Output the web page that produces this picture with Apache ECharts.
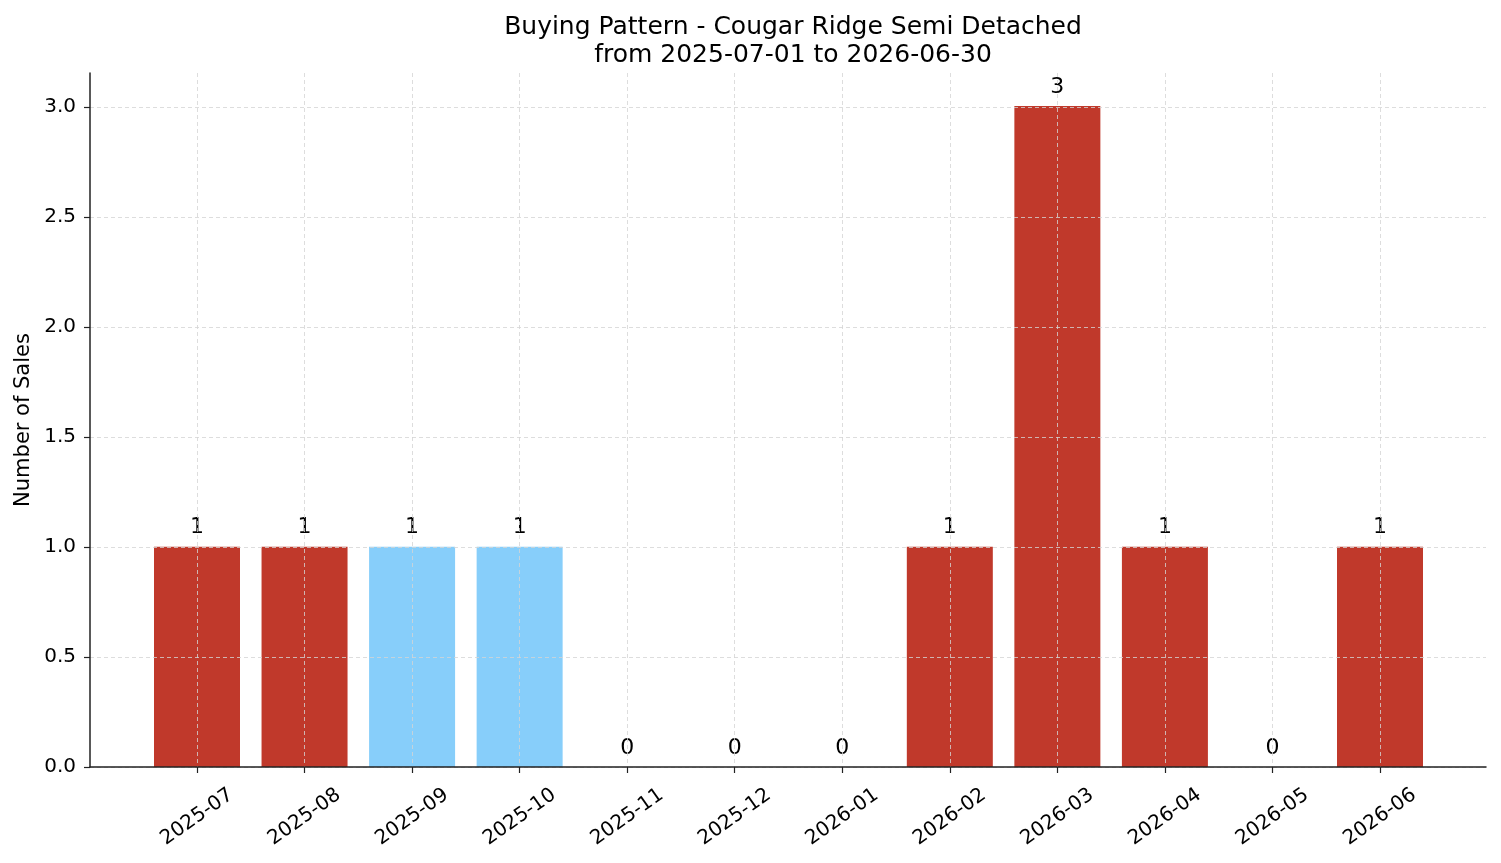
<!DOCTYPE html>
<html>
<head>
<meta charset="utf-8">
<title>Buying Pattern</title>
<script src="https://cdn.jsdelivr.net/npm/echarts@6/dist/echarts.min.js"></script>
<style>
  html, body { margin: 0; padding: 0; background: #fff; }
  #chart { width: 1501px; height: 863px; }
</style>
</head>
<body>
<div id="chart"></div>
<script>
// data
var months = ['2025-07', '2025-08', '2025-09', '2025-10', '2025-11', '2025-12',
              '2026-01', '2026-02', '2026-03', '2026-04', '2026-05', '2026-06'];
var sales = [1, 1, 1, 1, 0, 0, 0, 1, 3, 1, 0, 1];
var blueMonths = ['2025-09', '2025-10'];
var yTicks = [0, 0.5, 1, 1.5, 2, 2.5, 3];

var RED = '#C0392B';
var BLUE = '#87CEFA';
var FONT = '"DejaVu Sans", sans-serif';
var AXIS_COLOR = '#222';

var gridLine = {
  show: true,
  lineStyle: { color: '#d4d4d4', width: 0.8, type: [4, 3] }
};

var chart = echarts.init(document.getElementById('chart'), null, { renderer: 'canvas' });

chart.setOption({
  animation: false,
  backgroundColor: '#fff',
  textStyle: { fontFamily: FONT },
  title: {
    text: 'Buying Pattern - Cougar Ridge Semi Detached\nfrom 2025-07-01 to 2026-06-30',
    left: 788,
    top: 8,
    textAlign: 'center',
    textStyle: {
      fontFamily: FONT,
      fontSize: 25,
      fontWeight: 'normal',
      color: '#000',
      lineHeight: 28
    }
  },
  grid: [
    // frame: spines + y axis name
    { left: 90, right: 15, top: 73, bottom: 96, outerBoundsMode: 'none', containLabel: false },
    // horizontal grid lines + y tick labels (0..3)
    { left: 90, right: 15, top: 107, bottom: 96, outerBoundsMode: 'none', containLabel: false },
    // bars, ticks at centres of first and last bar
    { left: 197, right: 121, top: 73, bottom: 96, outerBoundsMode: 'none', containLabel: false }
  ],
  xAxis: [
    {
      gridIndex: 0, type: 'value', min: 0, max: 1,
      axisLine: { show: true, lineStyle: { color: AXIS_COLOR, width: 1.5 } },
      axisTick: { show: false }, axisLabel: { show: false }, splitLine: { show: false },
      z: 4
    },
    {
      gridIndex: 1, type: 'value', min: 0, max: 1, show: false
    },
    {
      gridIndex: 2, type: 'category', data: months, boundaryGap: false,
      axisLine: { show: false },
      axisTick: { show: true, length: 6, lineStyle: { color: AXIS_COLOR, width: 1.2 } },
      axisLabel: {
        show: true, interval: 0, rotate: 35, margin: 50,
        align: 'center', verticalAlign: 'middle',
        fontSize: 20, color: '#000', fontFamily: FONT
      },
      splitLine: Object.assign({ interval: 0 }, gridLine),
      z: 3
    }
  ],
  yAxis: [
    {
      gridIndex: 0, type: 'value', min: 0, max: 1,
      name: 'Number of Sales', nameLocation: 'middle', nameGap: 56,
      nameTextStyle: { fontSize: 21, color: '#000', fontFamily: FONT },
      axisLine: { show: true, lineStyle: { color: AXIS_COLOR, width: 1.5 } },
      axisTick: { show: false }, axisLabel: { show: false }, splitLine: { show: false },
      z: 4
    },
    {
      gridIndex: 1, type: 'value', min: yTicks[0], max: yTicks[yTicks.length - 1], interval: 0.5,
      axisLine: { show: false },
      axisTick: { show: true, length: 6, lineStyle: { color: AXIS_COLOR, width: 1.2 } },
      axisLabel: {
        margin: 14, fontSize: 20, color: '#000', fontFamily: FONT,
        formatter: function (v) { return v.toFixed(1); }
      },
      splitLine: gridLine,
      z: 3
    },
    {
      gridIndex: 2, type: 'value', min: 0, max: 3.15, show: false
    }
  ],
  series: [
    {
      type: 'bar',
      xAxisIndex: 2,
      yAxisIndex: 2,
      barWidth: 86,
      clip: false,
      z: 2,
      data: sales.map(function (v, i) {
        return {
          value: v,
          itemStyle: { color: blueMonths.indexOf(months[i]) >= 0 ? BLUE : RED }
        };
      }),
      label: {
        show: true,
        position: 'top',
        distance: 8,
        fontSize: 22,
        color: '#000',
        fontFamily: FONT
      }
    }
  ]
});
</script>
</body>
</html>
